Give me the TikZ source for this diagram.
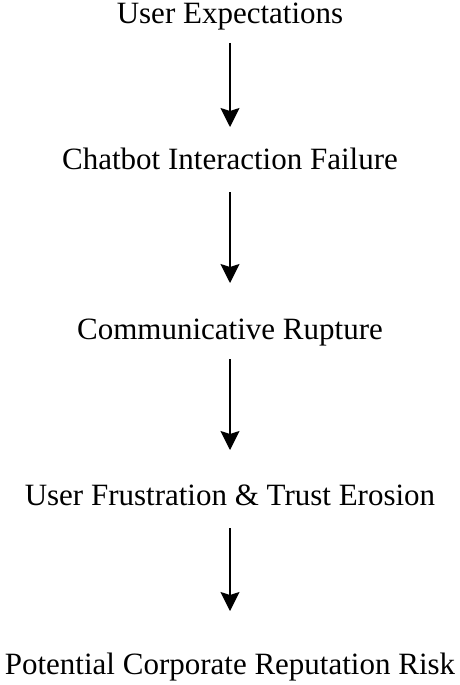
\documentclass[tikz,border=0pt]{standalone}
\usepackage{fontspec}
\setmainfont{Liberation Serif}
\usetikzlibrary{arrows.meta}
\begin{document}
\begin{tikzpicture}[x=1pt,y=-1pt,
  label/.style={anchor=base,inner sep=0pt,font=\fontsize{31}{36}\selectfont},
  flow/.style={line width=1.3pt,-{Stealth[length=19pt,width=19pt,inset=3pt]}}]
\useasboundingbox (0,0) rectangle (460,685);
\node[label] (a) at (230,24) {User Expectations};
\node[label] (b) at (230,169) {Chatbot Interaction Failure};
\node[label] (c) at (230,339) {Communicative Rupture};
\node[label] (d) at (230,505) {User Frustration \& Trust Erosion};
\node[label] (e) at (230,674) {Potential Corporate Reputation Risk};
\draw[flow] ([yshift=-19pt]a.base) -- ([yshift=42pt]b.base);
\draw[flow] ([yshift=-23pt]b.base) -- ([yshift=56pt]c.base);
\draw[flow] ([yshift=-20pt]c.base) -- ([yshift=55pt]d.base);
\draw[flow] ([yshift=-23pt]d.base) -- ([yshift=63pt]e.base);
\end{tikzpicture}
\end{document}
